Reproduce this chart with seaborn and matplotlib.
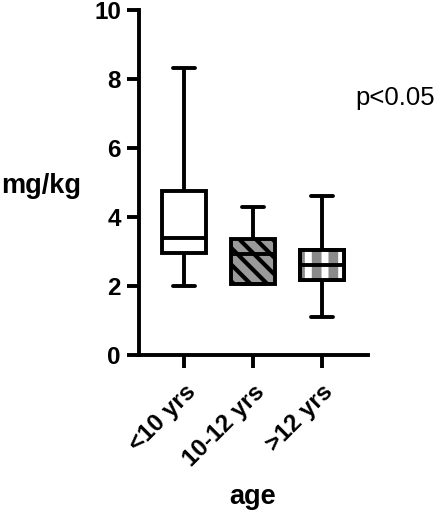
import pandas as pd
import seaborn as sns
import matplotlib.pyplot as plt
import matplotlib.patches as mpatches

sns.set_style("ticks")
plt.rcParams['font.family'] = ['Liberation Sans', 'DejaVu Sans']
plt.rcParams['text.color'] = 'black'
plt.rcParams['xtick.color'] = 'black'
plt.rcParams['ytick.color'] = 'black'
plt.rcParams['axes.labelcolor'] = 'black'
plt.rcParams['axes.edgecolor'] = 'black'
plt.rcParams['hatch.linewidth'] = 3

# five-number summaries (min, Q1, median, Q3, max)
groups = ["<10 yrs", "10-12 yrs", ">12 yrs"]
lt10 = [2.0, 2.95, 3.4, 4.75, 8.3]
mid = [2.05, 2.05, 2.93, 3.37, 4.3]
gt12 = [1.1, 2.17, 2.6, 3.04, 4.6]

df = pd.DataFrame({
    "age": [groups[0]] * 5 + [groups[1]] * 5 + [groups[2]] * 5,
    "mg/kg": lt10 + mid + gt12,
})

fig = plt.figure(figsize=(4.4, 5.16), dpi=100)
ax = fig.add_axes([0.316, 0.312, 0.52, 0.669])

lw = 2.8
sns.boxplot(data=df, x="age", y="mg/kg", order=groups, whis=(0, 100),
            width=0.64, color="white", linecolor="black", linewidth=lw,
            ax=ax)

fills = ["white", "#9a9a9a", "#8a8a8a"]
hatches = [None, "\\\\", None]
boxes = [p for p in ax.patches]
for b, fc, h in zip(boxes, fills, hatches):
    b.set_facecolor(fc)
    b.set_edgecolor("black")
    if h:
        b.set_hatch(h)

# white vertical bands on the third box
b3 = boxes[2]
over = mpatches.PathPatch(b3.get_path(), transform=b3.get_transform(),
                          facecolor="none", edgecolor="white", linewidth=0,
                          hatch="|", zorder=b3.get_zorder() + 0.1)
if hasattr(over, "set_hatch_linewidth"):
    over.set_hatch_linewidth(5)
ax.add_patch(over)
edge = mpatches.PathPatch(b3.get_path(), transform=b3.get_transform(),
                          facecolor="none", edgecolor="black", linewidth=lw,
                          zorder=b3.get_zorder() + 0.2)
ax.add_patch(edge)
for ln in ax.lines:
    ln.set_zorder(5)

ax.set_ylim(0, 10)
ax.set_yticks([0, 2, 4, 6, 8, 10])
ax.set_xlim(-0.65, 2.67)
sns.despine(ax=ax)
for s in ["left", "bottom"]:
    ax.spines[s].set_linewidth(lw)
ax.tick_params(axis="both", width=lw, length=9, labelsize=17.5, pad=4)
ax.tick_params(axis="x", pad=9)
for t in ax.get_yticklabels():
    t.set_fontweight("bold")
plt.setp(ax.get_xticklabels(), rotation=45, ha="right",
         rotation_mode="anchor", fontweight="bold")

ax.set_ylabel("mg/kg", rotation=0, fontsize=19.5, fontweight="bold",
              ha="right", va="center")
ax.yaxis.set_label_coords(-0.255, 0.49)
ax.set_xlabel("age", fontsize=19.5, fontweight="bold", va="center")
ax.xaxis.set_label_coords(0.498, -0.41)
ax.text(0.945, 0.745, "p<0.05", transform=ax.transAxes, fontsize=18.5,
        va="center", ha="left")

fig.savefig("out.png", dpi=100)
